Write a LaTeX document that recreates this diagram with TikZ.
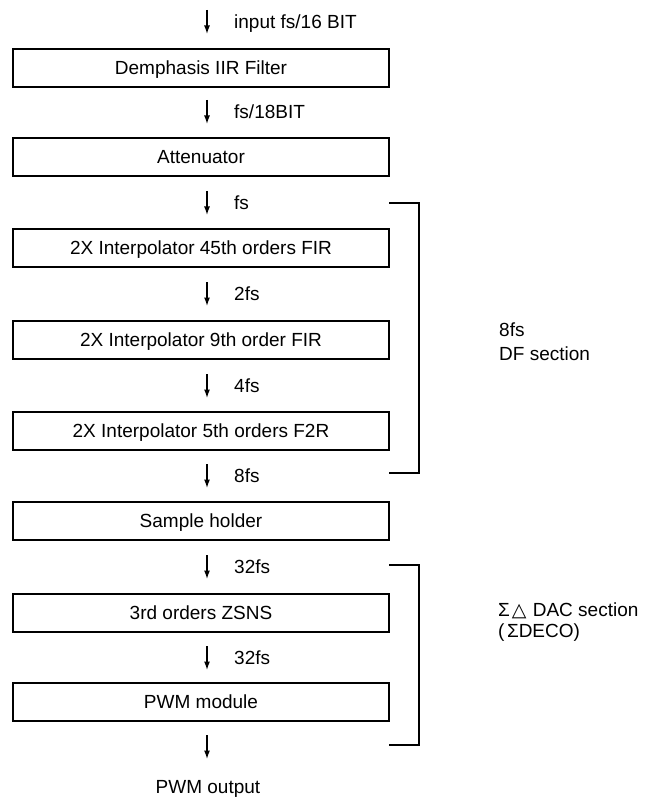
\documentclass[tikz,border=0pt]{standalone}
\usepackage{fontspec}
\setmainfont{Liberation Sans}
\newfontfamily\symfont{DejaVu Sans}
\usetikzlibrary{arrows.meta}

\begin{document}
\begin{tikzpicture}[x=1pt,y=-1pt,
  every node/.style={font=\fontsize{19}{22}\selectfont},
  stage/.style={draw, line width=1.4pt, minimum width=376pt, minimum height=38pt,
                inner sep=0pt, text height=13.6pt, text depth=0pt},
  flow/.style={line width=1.3pt, -{Latex[length=8.5pt,width=6pt]}},
  rate/.style={anchor=base west, inner sep=0pt},
  note/.style={anchor=base west, inner sep=0pt},
  bracketline/.style={line width=1.4pt}]
\useasboundingbox (0,0) rectangle (647,802);

% processing stages
\node[stage] (b1) at (201,68)  {Demphasis IIR Filter};
\node[stage] (b2) at (201,157) {Attenuator};
\node[stage] (b3) at (201,248) {2X Interpolator 45th orders FIR};
\node[stage] (b4) at (201,340) {2X Interpolator 9th order FIR};
\node[stage] (b5) at (201,431) {2X Interpolator 5th orders F2R};
\node[stage] (b6) at (201,521) {Sample holder};
\node[stage] (b7) at (201,613) {3rd orders ZSNS};
\node[stage] (b8) at (201,702) {PWM module};

% short signal-flow arrows between the stages
\foreach \n/\y in {1/22,2/112,3/203,4/294,5/386,6/476,7/567,8/658,9/747}{
  \coordinate (t\n) at (207,\y-12);
  \coordinate (h\n) at (207,\y+12);
  \draw[flow] (t\n) -- (h\n);
}

% sample-rate labels beside the arrows
\node[rate] (r1) at (234,28.8)  {input fs/16 BIT};
\node[rate] (r2) at (234,118.8) {fs/18BIT};
\node[rate] (r3) at (234,209.8) {fs};
\node[rate] (r4) at (234,300.8) {2fs};
\node[rate] (r5) at (234,392.8) {4fs};
\node[rate] (r6) at (234,482.8) {8fs};
\node[rate] (r7) at (234,573.8) {32fs};
\node[rate] (r8) at (234,664.8) {32fs};

\node[anchor=base, inner sep=0pt] (out) at (208,793.8) {PWM output};

% section brackets
\coordinate (k1a) at (389,203);
\coordinate (k1b) at (389,473);
\draw[bracketline] (k1a) -- (419,203) -- (419,473) -- (k1b);
\coordinate (k2a) at (389,565);
\coordinate (k2b) at (389,745);
\draw[bracketline] (k2a) -- (419,565) -- (419,745) -- (k2b);

% section names
\node[note] (df1) at (499,336.8) {8fs};
\node[note] (df2) at (499,360.8) {DF section};
\node[note] (sd1) at (498,616.8) {Σ\kern2pt{\symfont\fontsize{19}{22}\selectfont △}\kern1pt{} DAC section};
\node[note] (sd2) at (498,637.8) {(\kern2.5ptΣDECO)};
\end{tikzpicture}
\end{document}
